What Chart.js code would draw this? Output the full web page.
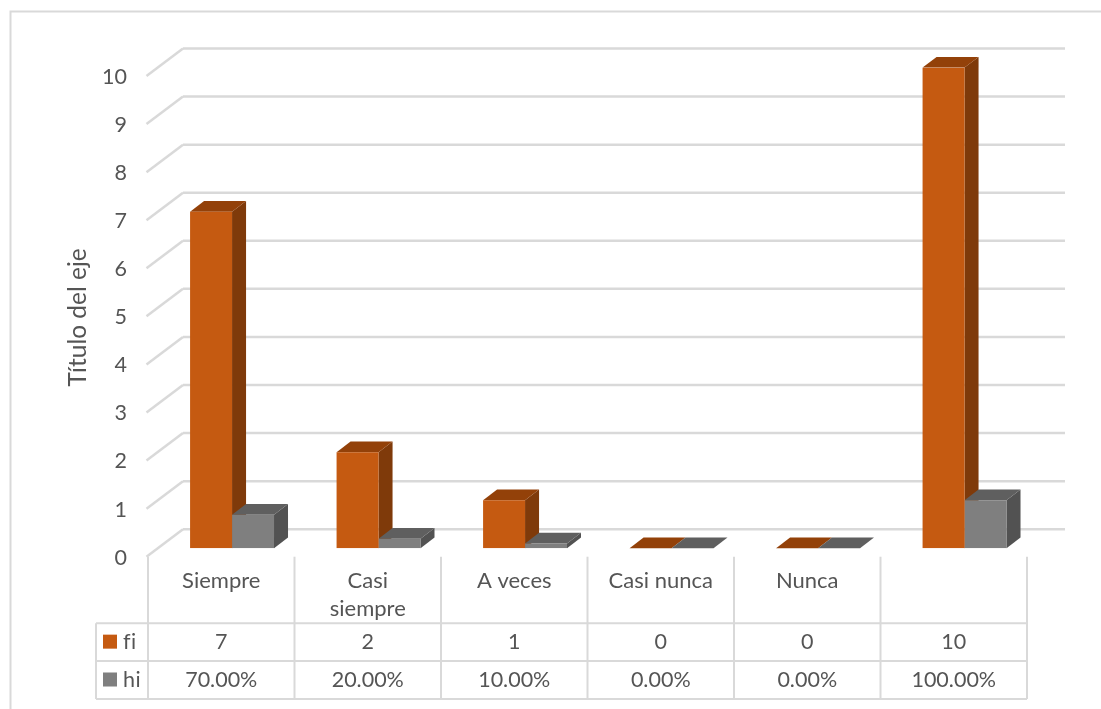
<!DOCTYPE html>
<html>
<head>
<meta charset="utf-8">
<title>fi / hi</title>
<script src="https://cdn.jsdelivr.net/npm/chart.js@4"></script>
<style>
  html, body { margin: 0; padding: 0; background: #fff; }
  canvas { display: block; }
</style>
</head>
<body>
<canvas id="dash" width="1101" height="709"></canvas>
<script>
const categorias = ["Siempre", ["Casi", "siempre"], "A veces", "Casi nunca", "Nunca", ""];
const fi = [7, 2, 1, 0, 0, 10];
const hi = [0.7, 0.2, 0.1, 0, 0, 1];
const ticksY = [0, 1, 2, 3, 4, 5, 6, 7, 8, 9, 10];

const corTexto = "#555555";
const corGrade = "#d9d9d9";
const fonte = "Lato";

// faces of each series: front, top, side
const coresFi = ["#c55a11", "#934109", "#7f3a0a"];
const coresHi = ["#7f7f7f", "#5f5f5f", "#525252"];

// bars sit in the middle of the floor depth
const fundoX = 36.5, fundoY = 27.5;
const barraX = 14, barraY = 10.7;
const desvioX = 10.8, desvioY = 9.4;

// the grid floor sits a little above the axis used for the labels
const subidaGrade = 1;

const linhasTabela = [623.3, 661, 699];
const inicioLegenda = 96;

function linha(ctx, x1, y1, x2, y2) {
  ctx.beginPath();
  ctx.moveTo(x1, y1);
  ctx.lineTo(x2, y2);
  ctx.stroke();
}

function face(ctx, cor, pontos) {
  ctx.fillStyle = cor;
  ctx.beginPath();
  pontos.forEach((p, i) => i ? ctx.lineTo(p[0], p[1]) : ctx.moveTo(p[0], p[1]));
  ctx.closePath();
  ctx.fill();
}

const moldura = {
  id: "moldura",
  beforeDraw(chart) {
    const ctx = chart.ctx;
    ctx.save();
    ctx.fillStyle = "#fff";
    ctx.fillRect(0, 0, chart.width, chart.height);
    ctx.strokeStyle = corGrade;
    ctx.lineWidth = 2;
    ctx.beginPath();
    ctx.moveTo(10.5, chart.height);
    ctx.lineTo(10.5, 11.5);
    ctx.lineTo(chart.width, 11.5);
    ctx.stroke();
    ctx.restore();
  }
};

const barras3d = {
  id: "barras3d",
  beforeDatasetsDraw(chart) {
    const ctx = chart.ctx;
    const a = chart.chartArea;
    const y = chart.scales.y;

    ctx.save();
    ctx.strokeStyle = corGrade;
    ctx.lineWidth = 2.5;
    ticksY.forEach(v => {
      const p = y.getPixelForValue(v) - subidaGrade;
      linha(ctx, a.left - 1.5, p, a.left + fundoX - 1.5, p - fundoY);
      linha(ctx, a.left + fundoX - 1.5, p - fundoY, a.right + fundoX + 1.5, p - fundoY);
    });
    ctx.restore();

    // left open until afterDatasetsDraw so the fronts share the shift
    ctx.save();
    ctx.translate(desvioX, -desvioY);
    [coresFi, coresHi].forEach((cores, d) => {
      chart.getDatasetMeta(d).data.forEach(bar => {
        const esq = bar.x - bar.width / 2;
        const dir = bar.x + bar.width / 2;
        face(ctx, cores[2], [[dir, bar.y], [dir + barraX, bar.y - barraY], [dir + barraX, bar.base - barraY], [dir, bar.base]]);
        face(ctx, cores[1], [[esq, bar.y], [esq + barraX, bar.y - barraY], [dir + barraX, bar.y - barraY], [dir, bar.y]]);
      });
    });
  },
  afterDatasetsDraw(chart) {
    chart.ctx.restore();
  }
};

const tabela = {
  id: "tabela",
  afterDraw(chart) {
    const ctx = chart.ctx;
    const a = chart.chartArea;
    const x = chart.scales.x;
    const passo = a.width / fi.length;
    const [l0, l1, l2] = linhasTabela;

    ctx.save();
    ctx.strokeStyle = corGrade;
    ctx.lineWidth = 2;
    linhasTabela.forEach(l => linha(ctx, inicioLegenda, l, a.right, l));
    linha(ctx, inicioLegenda, l0, inicioLegenda, l2);
    for (let i = 0; i <= fi.length; i++) {
      linha(ctx, a.left + passo * i, a.bottom - subidaGrade, a.left + passo * i, l2);
    }

    ctx.font = "21.5px " + fonte;
    ctx.fillStyle = corTexto;
    ctx.textBaseline = "middle";
    ctx.textAlign = "center";
    fi.forEach((v, i) => {
      ctx.fillText(String(v), x.getPixelForTick(i), (l0 + l1) / 2);
      ctx.fillText((hi[i] * 100).toFixed(2) + "%", x.getPixelForTick(i), (l1 + l2) / 2);
    });

    // a touch of spacing keeps "fi" from collapsing into a ligature
    ctx.textAlign = "left";
    ctx.letterSpacing = "0.5px";
    ctx.fillText("fi", 123, (l0 + l1) / 2);
    ctx.fillText("hi", 123, (l1 + l2) / 2);
    ctx.fillStyle = coresFi[0];
    ctx.fillRect(103, (l0 + l1) / 2 - 7.5, 14, 14);
    ctx.fillStyle = coresHi[0];
    ctx.fillRect(103, (l1 + l2) / 2 - 7.5, 14, 14);
    ctx.restore();
  }
};

const dash = document.getElementById("dash");

new Chart(dash, {
  type: "bar",
  data: {
    labels: categorias,
    datasets: [
      { label: "fi", data: fi, backgroundColor: coresFi[0], borderWidth: 0 },
      { label: "hi", data: hi, backgroundColor: coresHi[0], borderWidth: 0 }
    ]
  },
  options: {
    responsive: false,
    animation: false,
    maintainAspectRatio: false,
    layout: { padding: { top: 77, right: 74, left: 0, bottom: 0 } },
    datasets: { bar: { categoryPercentage: 0.573, barPercentage: 1 } },
    plugins: {
      legend: { display: false },
      title: { display: false },
      tooltip: { enabled: false }
    },
    scales: {
      x: {
        grid: { display: false, drawTicks: false },
        border: { display: false },
        ticks: {
          color: corTexto,
          font: { family: fonte, size: 22, lineHeight: 1.27 },
          maxRotation: 0,
          autoSkip: false,
          padding: 9
        },
        afterFit(scale) { scale.height = 151.3; }
      },
      y: {
        min: 0,
        max: 10,
        grid: { display: false, drawTicks: false },
        border: { display: false },
        afterBuildTicks(scale) { scale.ticks = ticksY.map(v => ({ value: v })); },
        ticks: {
          color: corTexto,
          font: { family: fonte, size: 21.5 },
          padding: 21
        },
        title: {
          display: true,
          text: "Título del eje",
          color: corTexto,
          font: { family: fonte, size: 24.5 },
          padding: { top: 63, bottom: 0 }
        },
        afterFit(scale) { scale.width = 148; }
      }
    }
  },
  plugins: [moldura, barras3d, tabela]
});
</script>
</body>
</html>
